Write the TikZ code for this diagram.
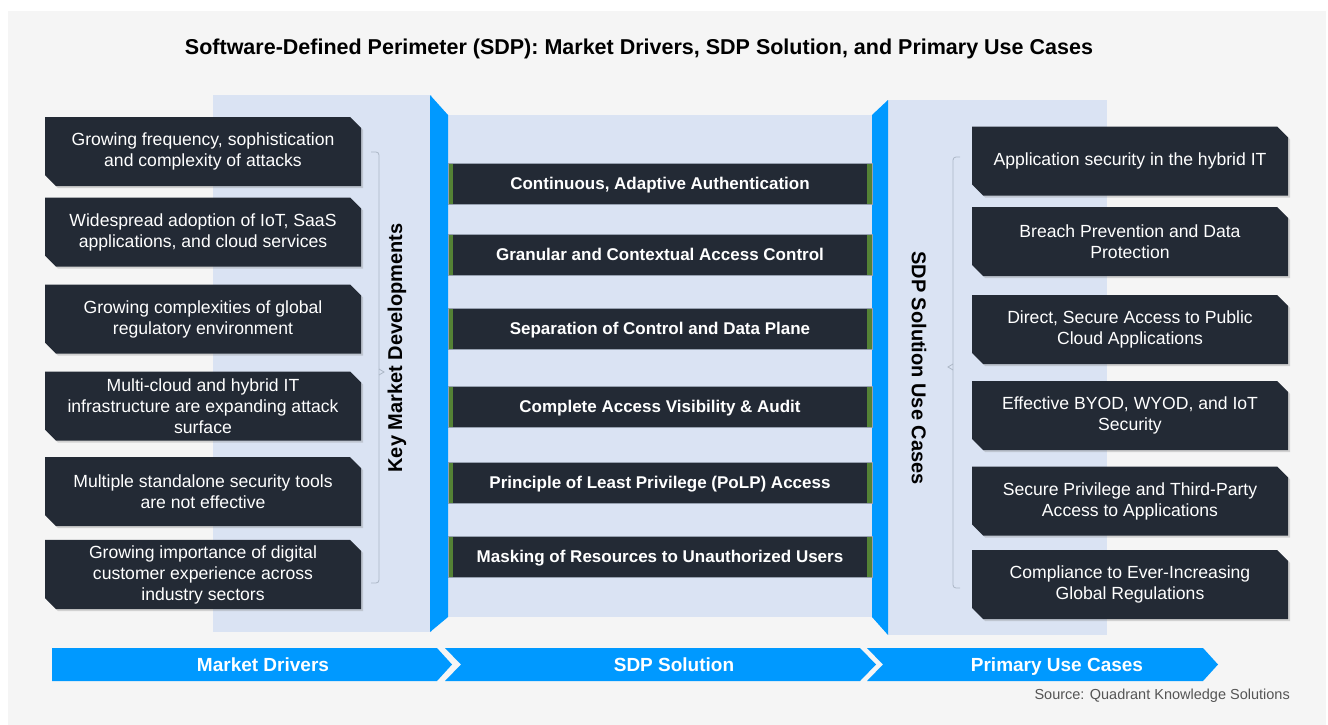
\documentclass[tikz,border=0pt]{standalone}
\usepackage{fontspec}
\setmainfont{Liberation Sans}
\usetikzlibrary{shapes.misc,shadows}

\definecolor{bgGrey}{RGB}{245,245,245}
\definecolor{panelBlue}{RGB}{218,227,243}
\definecolor{barBlue}{RGB}{0,153,255}
\definecolor{boxDark}{RGB}{35,42,53}
\definecolor{edgeGreen}{RGB}{84,130,53}
\definecolor{braceGrey}{RGB}{172,183,198}
\definecolor{barEdge}{RGB}{150,160,175}
\definecolor{srcGrey}{RGB}{85,85,85}

\begin{document}
\begin{tikzpicture}[x=1pt,y=-1pt,
  infobox/.style={chamfered rectangle,
    chamfered rectangle corners={north east,south west},
    chamfered rectangle xsep=5.5pt, chamfered rectangle ysep=5.5pt,
    fill=boxDark, text=white, align=center,
    minimum width=316pt, minimum height=69pt, inner sep=0pt,
    font=\fontsize{17.6}{21}\selectfont,
    drop shadow={shadow xshift=2pt, shadow yshift=-2pt, opacity=0.3}},
  solbar/.style={rectangle, fill=boxDark, draw=barEdge, line width=0.6pt,
    text=white, minimum width=424pt, minimum height=41pt, inner sep=0pt,
    text depth=0pt,
    font=\bfseries\fontsize{17}{20}\selectfont,
    path picture={
      \fill[edgeGreen] (path picture bounding box.north west) rectangle
        ([xshift=5pt]path picture bounding box.south west);
      \fill[edgeGreen] (path picture bounding box.north east) rectangle
        ([xshift=-5pt]path picture bounding box.south east);}},
  sidelabel/.style={font=\bfseries\fontsize{20}{24}\selectfont, text=black},
  bandlabel/.style={font=\bfseries\fontsize{19}{22}\selectfont, text=white, text depth=0pt},
  bracket/.style={draw=braceGrey, line width=0.8pt, rounded corners=3pt},
  band/.style={fill=barBlue, draw=none}
]
\useasboundingbox (0,0) rectangle (1328,725);
\fill[white] (0,0) rectangle (1328,725);
\fill[bgGrey] (8,11) rectangle (1326,725);

% title
\node[font=\bfseries\fontsize{21.5}{25}\selectfont] (title) at (639,49)
  {Software-Defined Perimeter (SDP): Market Drivers, SDP Solution, and Primary Use Cases};

% background panels and blue dividers
\fill[panelBlue] (213,95) rectangle (432,632);
\fill[panelBlue] (448,115) rectangle (872,617);
\fill[panelBlue] (888,100) rectangle (1107,635);
\fill[barBlue] (430,95) -- (448,115) -- (448,617) -- (430,632) -- cycle;
\fill[barBlue] (872,115) -- (888,100) -- (888,635) -- (872,617) -- cycle;

% market drivers
\node[infobox] (d1) at (203,151.5) {Growing frequency, sophistication\\and complexity of attacks};
\node[infobox] (d2) at (203,232) {Widespread adoption of IoT, SaaS\\applications, and cloud services};
\node[infobox] (d3) at (203,319) {Growing complexities of global\\regulatory environment};
\node[infobox] (d4) at (203,406) {Multi-cloud and hybrid IT\\infrastructure are expanding attack\\surface};
\node[infobox] (d5) at (203,491.5) {Multiple standalone security tools\\are not effective};
\node[infobox] (d6) at (203,574.5) {Growing importance of digital\\customer experience across\\industry sectors};

% bracket and label for the drivers
\draw[bracket] (371,152) -- (379,152) -- (379,583) -- (371,583);
\draw[draw=braceGrey, line width=0.8pt] (379,369) -- (384,372) -- (379,375);
\node[sidelabel, rotate=90] (kmd) at (397,348) {Key Market Developments};

% SDP solution capabilities
\node[solbar] (s1) at (660,183.5) {Continuous, Adaptive Authentication};
\node[solbar] (s2) at (660,254.5) {Granular and Contextual Access Control};
\node[solbar] (s3) at (660,328.5) {Separation of Control and Data Plane};
\node[solbar] (s4) at (660,406.5) {Complete Access Visibility \& Audit};
\node[solbar] (s5) at (660,482.5) {Principle of Least Privilege (PoLP) Access};
\node[solbar] (s6) at (660,556.5) {Masking of Resources to Unauthorized Users};

% bracket and label for the use cases
\node[sidelabel, rotate=-90] (sduc) at (919,368) {SDP Solution Use Cases};
\draw[bracket] (960,157) -- (953,157) -- (953,588) -- (960,588);
\draw[draw=braceGrey, line width=0.8pt] (953,364) -- (948,367) -- (953,370);

% primary use cases
\node[infobox] (u1) at (1130,161) {Application security in the hybrid IT};
\node[infobox] (u2) at (1130,241.5) {Breach Prevention and Data\\Protection};
\node[infobox] (u3) at (1130,329.5) {Direct, Secure Access to Public\\Cloud Applications};
\node[infobox] (u4) at (1130,415.5) {Effective BYOD, WYOD, and IoT\\Security};
\node[infobox] (u5) at (1130,501) {Secure Privilege and Third-Party\\Access to Applications};
\node[infobox] (u6) at (1130,584.5) {Compliance to Ever-Increasing\\Global Regulations};

% bottom process band
\fill[band] (52,648) -- (437,648) -- (452,664.5) -- (437,681) -- (52,681) -- cycle;
\fill[band] (445,648) -- (860,648) -- (876,664.5) -- (860,681) -- (445,681) -- (461,664.5) -- cycle;
\fill[band] (867,648) -- (1203,648) -- (1218,664.5) -- (1203,681) -- (867,681) -- (883,664.5) -- cycle;
\node[bandlabel] (b1) at (263,664.5) {Market Drivers};
\node[bandlabel] (b2) at (674,664.5) {SDP Solution};
\node[bandlabel] (b3) at (1057,664.5) {Primary Use Cases};

% source note
\node[anchor=east, inner sep=0pt, text=srcGrey, font=\fontsize{14.5}{17}\selectfont] (src) at (1290,696)
  {Source: Quadrant Knowledge Solutions};
\end{tikzpicture}
\end{document}
